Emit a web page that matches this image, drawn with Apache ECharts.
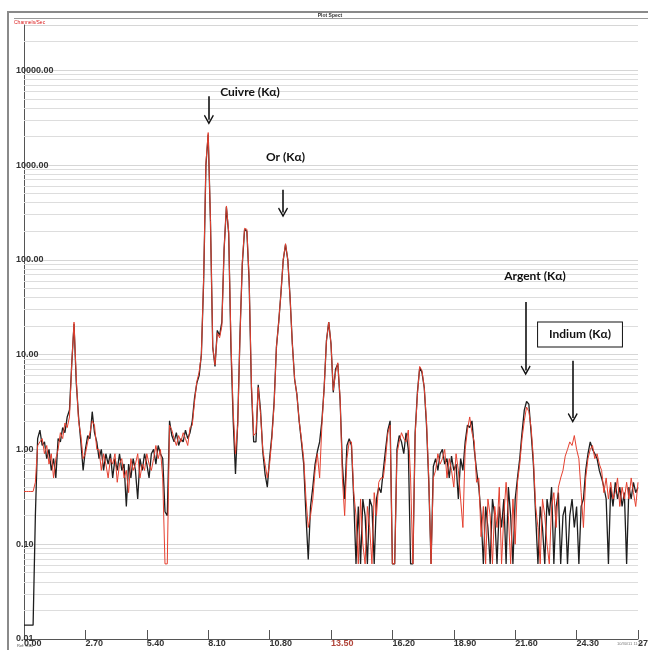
<!DOCTYPE html>
<html><head><meta charset="utf-8">
<script src="https://cdn.jsdelivr.net/npm/echarts@6/dist/echarts.min.js"></script>
<style>html,body{margin:0;padding:0;background:#fff;overflow:hidden}#c{width:648px;height:650px}</style>
</head><body><div id="c"></div>
<script>
// Spectrum channels: 0.0 keV to 27.0 keV, one value every 0.1 keV
const energyStep = 0.1;
const blackCounts = [
  0.014,0.014,0.014,0.014,0.014,0.2,1.3,1.6,1.1,1.2,
  0.8,1.0,0.6,0.8,0.5,1.3,1.2,1.7,1.5,2.2,
  2.6,8,21,5,2.2,1.2,0.6,1.0,1.4,1.3,
  2.5,1.5,1.2,0.8,1.0,0.6,0.9,0.7,0.9,0.5,
  0.8,0.6,0.9,0.6,0.7,0.25,0.7,0.5,0.8,0.6,
  0.3,0.8,0.6,0.9,0.7,0.5,0.9,1.0,0.7,1.1,
  0.9,0.8,0.22,0.2,2.0,1.4,1.2,1.5,1.1,1.3,
  1.2,1.6,1.3,1.5,2.0,3.5,5.0,6.0,10,60,
  1000,2100,250,12,7.5,18,16,22,130,360,
  190,12,2.0,0.55,2.0,17,90,210,200,60,
  4.5,1.2,1.2,4.8,2.6,0.95,0.55,0.4,0.8,1.4,
  3.2,12,22,45,100,145,100,40,13,5.5,
  3.8,2.0,1.2,0.7,0.2,0.069,0.25,0.4,0.7,0.95,
  1.2,2.0,4.5,14,22,13,4.0,7.0,8.0,3.3,
  0.7,0.3,1.1,1.3,1.1,0.3,0.062,0.25,0.062,0.3,
  0.2,0.062,0.3,0.25,0.062,0.3,0.4,0.35,0.6,1.0,
  1.6,2.0,0.062,0.062,1.0,1.4,1.2,0.9,1.5,1.0,
  0.062,0.062,1.5,4.0,7.3,6.5,4.5,1.8,0.45,0.062,
  0.66,0.8,0.6,0.9,1.0,0.7,0.8,0.5,0.85,0.6,
  0.7,0.3,0.8,0.6,1.2,1.8,1.7,2.0,1.0,0.6,
  0.4,0.2,0.062,0.25,0.15,0.062,0.3,0.2,0.062,0.25,
  0.15,0.3,0.062,0.4,0.2,0.062,0.3,0.5,0.8,1.5,
  2.6,3.2,3.0,1.5,0.7,0.2,0.062,0.25,0.15,0.062,
  0.3,0.2,0.4,0.062,0.25,0.35,0.062,0.2,0.25,0.062,
  0.2,0.3,0.15,0.25,0.062,0.25,0.3,0.6,0.9,1.2,
  1.0,0.9,0.8,0.6,0.5,0.4,0.3,0.062,0.4,0.25,
  0.45,0.3,0.4,0.25,0.35,0.062,0.4,0.3,0.45,0.35,
  0.4
];
const redCounts = [
  0.36,0.36,0.36,0.36,0.36,0.45,1.1,1.2,1.3,0.9,
  1.1,0.7,0.9,0.5,0.8,1.0,1.5,1.3,1.9,1.7,
  2.2,8,22,5.5,2.0,1.4,0.8,0.9,1.2,1.5,
  2.0,1.8,1.0,1.0,0.6,0.9,0.7,0.5,0.8,0.7,
  0.9,0.45,0.7,0.8,0.5,0.6,0.35,0.8,0.6,0.7,
  0.9,0.5,0.7,0.6,0.9,0.7,0.6,0.8,1.1,0.8,
  1.0,0.5,0.062,0.062,1.8,1.6,1.3,1.1,1.4,1.2,
  1.5,1.3,1.1,1.7,1.8,3.2,5.2,6.5,10,65,
  1050,2200,260,12,7.8,17,15,20,130,370,
  200,14,2.5,0.9,1.8,16,95,215,210,65,
  5,1.4,1.5,4.5,2.4,1.0,0.7,0.5,0.7,1.3,
  3.0,12,22,45,100,148,100,40,13,5.5,
  3.8,2.0,1.3,0.8,0.3,0.15,0.2,0.3,0.6,0.9,
  0.5,1.8,4.5,14,22,13,4.2,6.5,8.2,3.5,
  0.5,0.2,0.8,1.2,1.2,0.35,0.2,0.062,0.3,0.1,
  0.062,0.25,0.15,0.062,0.35,0.2,0.45,0.5,0.5,0.8,
  1.5,1.8,0.062,0.062,0.9,1.2,1.5,1.3,1.2,1.6,
  0.5,0.062,1.4,3.8,7.5,6.8,4.5,2.0,0.5,0.062,
  0.5,0.6,0.9,0.7,0.8,1.0,0.5,0.8,0.6,0.4,
  0.9,0.6,0.3,0.15,1.0,1.6,2.2,1.5,1.2,0.45,
  0.5,0.12,0.25,0.062,0.3,0.2,0.062,0.25,0.15,0.4,
  0.062,0.2,0.45,0.2,0.062,0.3,0.1,0.45,0.7,1.3,
  2.0,2.8,2.5,1.7,0.8,0.25,0.15,0.062,0.3,0.2,
  0.1,0.062,0.25,0.35,0.15,0.4,0.5,0.6,0.85,1.0,
  1.2,1.1,1.4,1.0,0.8,0.35,0.15,0.5,0.8,1.0,
  1.1,0.8,0.9,0.7,0.6,0.35,0.5,0.3,0.45,0.3,
  0.35,0.5,0.25,0.4,0.3,0.45,0.3,0.5,0.35,0.25,
  0.45
];
// Annotation labels (keV, counts) and arrows
const labelNames = ['Cuivre (K\u03b1)', 'Or (K\u03b1)', 'Argent (K\u03b1)', 'Indium (K\u03b1)'];
const labelCoords = [[9.94, 5870], [11.5, 1214], [22.47, 67.9], [24.45, 16.3]];
const arrowCoords = [
  [[8.13, 5300], [8.13, 3000]],
  [[11.39, 550], [11.39, 315]],
  [[22.06, 36], [22.06, 6.8]],
  [[24.13, 8.6], [24.13, 2.15]]
];

const toPairs = arr => arr.map((v, i) => [+(i * energyStep).toFixed(1), v]);

// minor log grid levels (2..9 per decade)
const minorLevels = [];
for (let d = -2; d <= 4; d++) {
  for (let k = 2; k <= 9; k++) {
    const v = Number((k * Math.pow(10, d)).toPrecision(3));
    if (v < 30000) minorLevels.push(v);
  }
}

const chart = echarts.init(document.getElementById('c'), null, {renderer: 'canvas'});
const axisFont = 'Liberation Sans, Arial, sans-serif';
const chevron = 'path://M5,0L10,8.6L9,9.6L5,2.9L1,9.6L0,8.6Z';

chart.setOption({
  animation: false,
  backgroundColor: '#ffffff',
  grid: {left: 24, right: 10, top: 25, bottom: 11, containLabel: false, outerBoundsMode: 'none'},
  xAxis: {
    type: 'value', min: 0, max: 27, interval: 2.7,
    axisLine: {show: true, lineStyle: {color: '#555', width: 1}},
    axisTick: {show: true, inside: true, length: 9, lineStyle: {color: '#555', width: 1}},
    axisLabel: {
      align: 'left', margin: 0, fontSize: 9, fontWeight: 600, color: '#333', fontFamily: axisFont,
      showMaxLabel: true, showMinLabel: true,
      formatter: v => Math.abs(v - 13.5) < 1e-6 ? '{r|13.50}' : v.toFixed(2),
      rich: {r: {color: '#b0453a', fontSize: 9, fontWeight: 600, fontFamily: axisFont}}
    },
    splitLine: {show: false}
  },
  yAxis: {
    type: 'log', logBase: 10, min: 0.01, max: 30000,
    axisLine: {show: true, lineStyle: {color: '#555', width: 1}},
    axisTick: {show: false},
    axisLabel: {
      align: 'left', margin: 8, fontSize: 9, fontWeight: 600, color: '#333', fontFamily: axisFont,
      formatter: v => {
        const l = Math.log10(v);
        return Math.abs(l - Math.round(l)) < 1e-6 ? Math.pow(10, Math.round(l)).toFixed(2) : '';
      }
    },
    splitLine: {show: true, lineStyle: {color: '#d6d6d6', width: 1}}
  },
  series: [
    {
      type: 'line', data: [], silent: true, z: 1,
      markLine: {
        silent: true, z: 1, symbol: ['none', 'none'], label: {show: false},
        lineStyle: {color: '#dddddd', type: 'solid', width: 1},
        emphasis: {disabled: true},
        data: minorLevels.map(v => ({yAxis: v}))
      }
    },
    {
      name: 'black', type: 'line', data: toPairs(blackCounts), showSymbol: false, z: 3,
      lineStyle: {color: '#1e1e1e', width: 1.3}, silent: true
    },
    {
      name: 'red', type: 'line', data: toPairs(redCounts), showSymbol: false, z: 4,
      lineStyle: {color: '#e5402f', width: 1}, silent: true
    },
    {
      type: 'line', data: [], silent: true, z: 10,
      markLine: {
        silent: true, z: 10, symbol: ['none', chevron], symbolSize: [10, 10],
        label: {show: false},
        lineStyle: {color: '#111', type: 'solid', width: 1.6},
        emphasis: {disabled: true},
        data: arrowCoords.map(a => [{coord: a[0]}, {coord: a[1]}])
      },
      markPoint: {
        silent: true, z: 10, symbol: 'rect', symbolSize: 1,
        itemStyle: {color: 'rgba(0,0,0,0)'},
        label: {
          show: true, position: 'inside', formatter: '{b}', color: '#111',
          fontSize: 12, fontWeight: 'bold', fontFamily: 'Lato, Open Sans, sans-serif'
        },
        data: labelNames.map((n, i) => {
          const item = {name: n, coord: labelCoords[i]};
          if (i === 3) item.label = {borderColor: '#111', borderWidth: 1, padding: [6, 11], backgroundColor: '#fff'};
          return item;
        })
      }
    }
  ],
  graphic: [
    {type: 'rect', silent: true, shape: {x: 8, y: 12, width: 660, height: 660},
      style: {fill: 'transparent', stroke: '#8a8a8a', lineWidth: 2}},
    {type: 'line', silent: true, shape: {x1: 14, y1: 18.5, x2: 648, y2: 18.5},
      style: {stroke: '#9a9a9a', lineWidth: 1}},
    {type: 'text', silent: true, x: 330, y: 15.5,
      style: {text: 'Plot Spect', fontSize: 5, fontWeight: 'bold', fill: '#333', align: 'center', verticalAlign: 'middle'}},
    {type: 'text', silent: true, x: 14, y: 22.5,
      style: {text: 'Channels/Sec', fontSize: 5, fill: '#d22', verticalAlign: 'middle'}},
    {type: 'text', silent: true, x: 617, y: 644,
      style: {text: '10/30/11 11:51', fontSize: 4, fill: '#777', verticalAlign: 'middle'}},
    {type: 'text', silent: true, x: 17, y: 646,
      style: {text: 'Ref: 0.00', fontSize: 4, fill: '#555', verticalAlign: 'middle'}}
  ]
});
</script>
</body></html>
